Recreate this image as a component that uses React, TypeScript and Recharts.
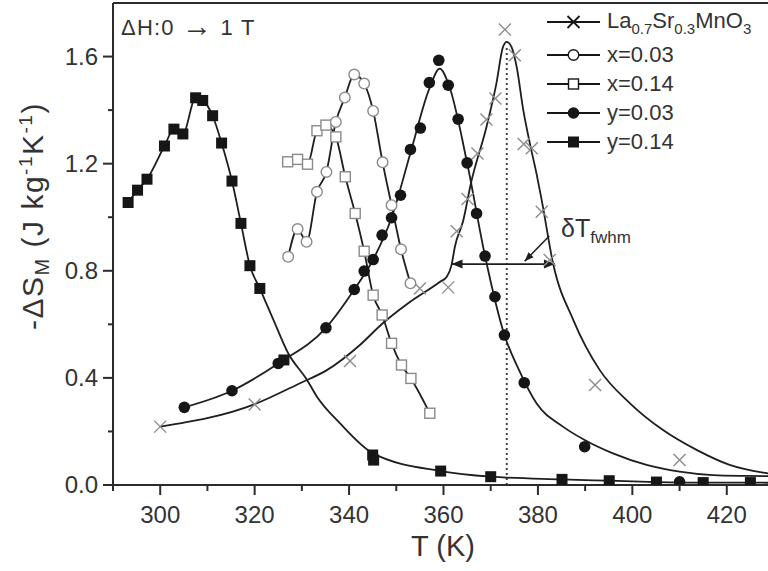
import React from "react";
import { ComposedChart, Line, Scatter, XAxis, YAxis, ReferenceLine } from "recharts";

// La0.7Sr0.3MnO3 (crosses) and its fitted curve
const laT = [300.0, 320.0, 340.2, 355.0, 361.0, 362.8, 365.1, 367.2, 369.1, 371.0, 373.0, 375.1, 377.0, 378.7, 380.8, 382.5, 392.1, 410.0];
const laS = [0.218, 0.301, 0.463, 0.734, 0.738, 0.948, 1.068, 1.238, 1.365, 1.443, 1.701, 1.605, 1.273, 1.258, 1.02, 0.84, 0.373, 0.093];
const laFitT = [300.0, 319.9, 329.6, 335.3, 342.3, 347.2, 352.3, 359.2, 360.7, 361.7, 362.4, 364.2, 365.8, 369.1, 371.2, 372.6, 373.4, 374.4, 375.5, 376.9, 378.3, 379.7, 380.8, 383.2, 387.5, 393.1, 399.5, 406.5, 413.6, 420.6, 427.7, 430.0];
const laFitS = [0.218, 0.301, 0.38, 0.429, 0.523, 0.605, 0.676, 0.758, 0.778, 0.821, 0.889, 0.989, 1.126, 1.337, 1.499, 1.636, 1.655, 1.636, 1.561, 1.4, 1.275, 1.163, 1.064, 0.828, 0.616, 0.429, 0.305, 0.205, 0.131, 0.075, 0.046, 0.04];

// x = 0.03 (open circles)
const x03T = [327.1, 329.1, 331.0, 333.2, 335.2, 337.2, 339.1, 341.1, 343.2, 345.1, 347.1, 349.0, 351.0, 353.0];
const x03S = [0.852, 0.956, 0.908, 1.095, 1.169, 1.356, 1.447, 1.533, 1.499, 1.397, 1.205, 1.045, 0.88, 0.753];

// x = 0.14 (open squares)
const x14T = [327.0, 329.1, 331.2, 333.2, 335.1, 337.2, 339.2, 341.3, 343.2, 345.1, 347.0, 349.0, 351.1, 353.1, 357.1];
const x14S = [1.207, 1.216, 1.198, 1.323, 1.344, 1.3, 1.151, 1.014, 0.873, 0.709, 0.635, 0.529, 0.448, 0.398, 0.268];

// y = 0.03 (filled circles) and its fitted curve
const y03T = [305.1, 315.2, 325.0, 335.1, 341.1, 343.2, 345.1, 347.0, 349.0, 350.9, 353.0, 355.1, 357.0, 359.0, 361.0, 363.1, 365.0, 367.0, 368.8, 370.9, 372.9, 377.1, 389.9, 410.0];
const y03S = [0.29, 0.352, 0.454, 0.587, 0.73, 0.799, 0.842, 0.933, 0.998, 1.082, 1.253, 1.333, 1.503, 1.586, 1.493, 1.366, 1.203, 1.014, 0.855, 0.703, 0.56, 0.382, 0.143, 0.012];
const y03FitT = [305.1, 315.2, 325.0, 335.1, 341.1, 345.1, 349.0, 353.0, 357.0, 359.2, 361.2, 365.0, 368.8, 372.9, 376.0, 379.7, 385.3, 389.9, 395.9, 403.0, 410.0, 417.1, 424.0, 430.0];
const y03FitS = [0.29, 0.352, 0.454, 0.587, 0.73, 0.842, 0.998, 1.24, 1.48, 1.555, 1.49, 1.203, 0.855, 0.56, 0.429, 0.305, 0.218, 0.168, 0.118, 0.075, 0.05, 0.037, 0.034, 0.033];

// y = 0.14 (filled squares) and its fitted curve
const y14T = [293.2, 295.2, 297.2, 300.9, 302.9, 304.8, 307.5, 309.0, 311.1, 313.0, 315.2, 317.1, 319.0, 321.1, 326.2, 345.0, 345.2, 359.4, 370.0, 385.1, 395.1, 405.1, 415.0, 425.0];
const y14S = [1.055, 1.101, 1.142, 1.266, 1.329, 1.311, 1.446, 1.436, 1.379, 1.277, 1.135, 0.977, 0.819, 0.734, 0.467, 0.112, 0.093, 0.052, 0.031, 0.021, 0.016, 0.011, 0.009, 0.009];
const y14FitT = [293.2, 295.2, 297.2, 300.9, 302.9, 304.8, 307.5, 309.0, 311.1, 313.0, 315.2, 317.1, 319.0, 321.1, 324.0, 327.1, 331.0, 333.2, 338.1, 345.1, 359.4, 370.0, 385.1, 395.1, 405.1, 415.0, 425.0, 430.0];
const y14FitS = [1.055, 1.101, 1.142, 1.266, 1.329, 1.311, 1.446, 1.436, 1.379, 1.277, 1.135, 0.977, 0.819, 0.734, 0.616, 0.492, 0.395, 0.33, 0.23, 0.118, 0.052, 0.031, 0.021, 0.016, 0.011, 0.009, 0.009, 0.008];

const xTicks = [290, 300, 310, 320, 330, 340, 350, 360, 370, 380, 390, 400, 410, 420, 430];
const yTicks = [0, 0.2, 0.4, 0.6, 0.8, 1.0, 1.2, 1.4, 1.6];

// annotations (data units)
const peakT = 373.4;
const peakTop = 1.64;
const fwhmArrow = [{ x: 361.7, y: 0.825 }, { x: 383.6, y: 0.825 }];
const fwhmPointer = [{ x: 382.4, y: 0.93 }, { x: 377.2, y: 0.836 }];

const FONT = '"Liberation Sans", Arial, Helvetica, sans-serif';
const AXIS = "#2b2b2b";
const TEXT = "#333";
const LINE = "#1e1e1e";
const GREY = "#8a8a8a";
const DARK = "#161616";

const pts = (ts: number[], ss: number[]) => ts.map((T, i) => ({ T, S: ss[i] }));

type Kind = "cross" | "openCircle" | "openSquare" | "circle" | "square";

function marker(kind: Kind, cx: number, cy: number, legend = false) {
  const edge = legend ? DARK : GREY;
  switch (kind) {
    case "cross":
      return (
        <path
          d={`M${cx - 6},${cy - 6}L${cx + 6},${cy + 6}M${cx - 6},${cy + 6}L${cx + 6},${cy - 6}`}
          stroke={legend ? DARK : "#8c8c8c"}
          strokeWidth={legend ? 1.8 : 1.4}
          fill="none"
        />
      );
    case "openCircle":
      return <circle cx={cx} cy={cy} r={5.3} fill="#fff" stroke={edge} strokeWidth={1.4} />;
    case "openSquare":
      return <rect x={cx - 5} y={cy - 5} width={10} height={10} fill="#fff" stroke={edge} strokeWidth={1.4} />;
    case "circle":
      return <circle cx={cx} cy={cy} r={5.8} fill={DARK} />;
    default:
      return <rect x={cx - 5.5} y={cy - 5.5} width={11} height={11} fill={DARK} />;
  }
}

const shapeOf = (kind: Kind) => (p: any) => marker(kind, p.cx, p.cy);

function renderXTick(props: any) {
  const { x, y, payload } = props;
  const major = Math.round(payload.value) % 20 === 0;
  return (
    <g>
      <line x1={x} x2={x} y1={y} y2={y + (major ? 10 : 6)} stroke={AXIS} strokeWidth={2} />
      {major && (
        <text x={x} y={y + 38} textAnchor="middle" fontSize={24} fill={TEXT} fontFamily={FONT}>
          {payload.value}
        </text>
      )}
    </g>
  );
}

function renderYTick(props: any) {
  const { x, y, payload } = props;
  const v = payload.value as number;
  const major = Math.round(v * 10) % 4 === 0;
  return (
    <g>
      <line x1={x - (major ? 10 : 5)} x2={x} y1={y} y2={y} stroke={AXIS} strokeWidth={2} />
      {major && (
        <text x={x - 15} y={y} dy="0.35em" textAnchor="end" fontSize={24} fill={TEXT} fontFamily={FONT}>
          {v.toFixed(1)}
        </text>
      )}
    </g>
  );
}

function head(tx: number, ty: number, fx: number, fy: number, len = 11, half = 4.5) {
  const d = Math.hypot(tx - fx, ty - fy) || 1;
  const ux = (tx - fx) / d;
  const uy = (ty - fy) / d;
  const bx = tx - ux * len;
  const by = ty - uy * len;
  return `${tx},${ty} ${bx - uy * half},${by + ux * half} ${bx + uy * half},${by - ux * half}`;
}

const doubleArrow = (p: any) => (
  <g>
    <line x1={p.x1} y1={p.y1} x2={p.x2} y2={p.y2} stroke={LINE} strokeWidth={1.8} />
    <polygon points={head(p.x1, p.y1, p.x2, p.y2)} fill={LINE} />
    <polygon points={head(p.x2, p.y2, p.x1, p.y1)} fill={LINE} />
  </g>
);

const pointerArrow = (p: any) => (
  <g>
    <line x1={p.x1} y1={p.y1} x2={p.x2} y2={p.y2} stroke={LINE} strokeWidth={1.5} />
    <polygon points={head(p.x2, p.y2, p.x1, p.y1, 9, 3.5)} fill={LINE} />
  </g>
);

const legendItems: { kind: Kind; label: React.ReactNode }[] = [
  {
    kind: "cross",
    label: (
      <>
        La<Sub>0.7</Sub>Sr<Sub>0.3</Sub>MnO<Sub>3</Sub>
      </>
    ),
  },
  { kind: "openCircle", label: "x=0.03" },
  { kind: "openSquare", label: "x=0.14" },
  { kind: "circle", label: "y=0.03" },
  { kind: "square", label: "y=0.14" },
];
const legendRowCenters = [22, 55, 84, 113, 142];

function Sub({ children }: { children: React.ReactNode }) {
  return <span style={{ fontSize: 15, position: "relative", top: 6 }}>{children}</span>;
}
function Sup({ children }: { children: React.ReactNode }) {
  return <span style={{ fontSize: 19, position: "relative", top: -11 }}>{children}</span>;
}

export default function App() {
  return (
    <div
      style={{
        position: "absolute",
        left: 0,
        top: 0,
        width: 768,
        height: 571,
        overflow: "hidden",
        background: "#fff",
        fontFamily: FONT,
        color: TEXT,
      }}
    >
      <ComposedChart width={790} height={571} margin={{ top: 3, right: 16, bottom: 26, left: 0 }}>
        <XAxis
          type="number"
          dataKey="T"
          domain={[290, 430]}
          ticks={xTicks}
          interval={0}
          tickSize={0}
          tickMargin={0}
          tick={renderXTick}
          height={60}
          allowDataOverflow
          axisLine={{ stroke: AXIS, strokeWidth: 2 }}
        />
        <YAxis
          type="number"
          dataKey="S"
          domain={[0, 1.8]}
          ticks={yTicks}
          interval={0}
          tickSize={0}
          tickMargin={0}
          tick={renderYTick}
          width={113}
          allowDataOverflow
          axisLine={{ stroke: AXIS, strokeWidth: 2 }}
        />
        <ReferenceLine y={1.8} stroke={AXIS} strokeWidth={2} />
        <ReferenceLine
          segment={[{ x: peakT, y: 0 }, { x: peakT, y: peakTop }]}
          stroke="#444"
          strokeWidth={2}
          strokeDasharray="2 3"
        />

        <Line data={pts(laFitT, laFitS)} dataKey="S" type="monotone" stroke={LINE} strokeWidth={1.8} dot={false} activeDot={false} isAnimationActive={false} />
        <Line data={pts(x03T, x03S)} dataKey="S" type="monotone" stroke={LINE} strokeWidth={1.8} dot={false} activeDot={false} isAnimationActive={false} />
        <Line data={pts(x14T, x14S)} dataKey="S" type="monotone" stroke={LINE} strokeWidth={1.8} dot={false} activeDot={false} isAnimationActive={false} />
        <Line data={pts(y03FitT, y03FitS)} dataKey="S" type="monotone" stroke={LINE} strokeWidth={1.8} dot={false} activeDot={false} isAnimationActive={false} />
        <Line data={pts(y14FitT, y14FitS)} dataKey="S" type="monotone" stroke={LINE} strokeWidth={1.8} dot={false} activeDot={false} isAnimationActive={false} />

        <ReferenceLine segment={fwhmArrow} shape={doubleArrow} />
        <ReferenceLine segment={fwhmPointer} shape={pointerArrow} />

        <Scatter data={pts(laT, laS)} shape={shapeOf("cross")} isAnimationActive={false} />
        <Scatter data={pts(x14T, x14S)} shape={shapeOf("openSquare")} isAnimationActive={false} />
        <Scatter data={pts(x03T, x03S)} shape={shapeOf("openCircle")} isAnimationActive={false} />
        <Scatter data={pts(y03T, y03S)} shape={shapeOf("circle")} isAnimationActive={false} />
        <Scatter data={pts(y14T, y14S)} shape={shapeOf("square")} isAnimationActive={false} />
      </ComposedChart>

      {/* field annotation */}
      <div style={{ position: "absolute", left: 121, top: 14, fontSize: 22, lineHeight: 1, whiteSpace: "nowrap", letterSpacing: 1.2 }}>
        ΔH:0 <span style={{ fontSize: 30, lineHeight: "22px", position: "relative", top: 1 }}>→</span> 1 T
      </div>

      {/* fwhm label */}
      <div style={{ position: "absolute", left: 561, top: 216, fontSize: 25, lineHeight: 1, whiteSpace: "nowrap" }}>
        δT<span style={{ fontSize: 17, position: "relative", top: 6 }}>fwhm</span>
      </div>

      {/* legend */}
      {legendItems.map((it, i) => (
        <div
          key={i}
          style={{
            position: "absolute",
            left: 547,
            top: legendRowCenters[i] - 10,
            height: 20,
            display: "flex",
            alignItems: "center",
            whiteSpace: "nowrap",
          }}
        >
          <svg width={60} height={20} style={{ display: "block" }}>
            <line x1={0} x2={53} y1={10} y2={10} stroke={DARK} strokeWidth={2} />
            {marker(it.kind, 26.5, 10, true)}
          </svg>
          <span style={{ fontSize: 22, lineHeight: "20px" }}>{it.label}</span>
        </div>
      ))}

      {/* axis titles */}
      <div
        style={{
          position: "absolute",
          left: 443,
          top: 532,
          transform: "translateX(-50%)",
          fontSize: 29,
          lineHeight: 1,
          whiteSpace: "nowrap",
        }}
      >
        T (K)
      </div>
      <div
        style={{
          position: "absolute",
          left: 33,
          top: 216,
          transform: "translate(-50%, -50%) rotate(-90deg)",
          fontSize: 30,
          lineHeight: 1,
          whiteSpace: "nowrap",
          letterSpacing: 1.5,
        }}
      >
        -ΔS<span style={{ fontSize: 20, position: "relative", top: 6 }}>M</span> (J kg<Sup>-1</Sup>K<Sup>-1</Sup>)
      </div>
    </div>
  );
}
